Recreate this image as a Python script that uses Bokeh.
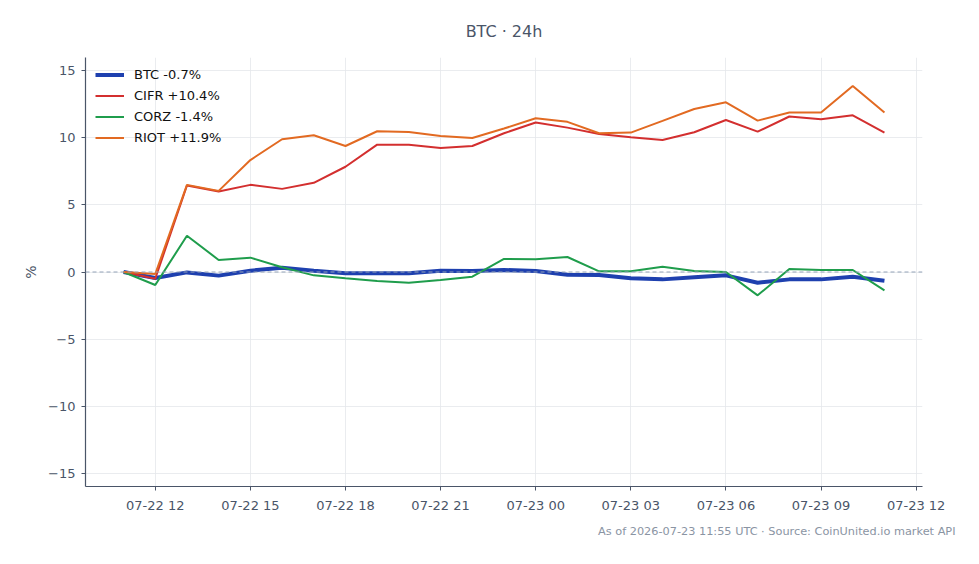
import pandas as pd
from bokeh.plotting import figure
from bokeh.models import (Range1d, FixedTicker, DatetimeTickFormatter, Span, Legend,
                          LegendItem, Title)
from bokeh.embed import file_html
from bokeh.resources import INLINE

# ---- data ----
times = pd.date_range("2026-07-22 11:00", "2026-07-23 11:00", freq="1h")
btc = [0.0, -0.45, -0.03, -0.27, 0.1, 0.32, 0.1, -0.1, -0.1, -0.1, 0.1, 0.07, 0.15,
       0.07, -0.2, -0.22, -0.47, -0.55, -0.4, -0.25, -0.8, -0.55, -0.55, -0.35, -0.65]
cifr = [0.0, -0.5, 6.45, 6.0, 6.5, 6.2, 6.65, 7.85, 9.5, 9.5, 9.25, 9.4, 10.35,
        11.15, 10.77, 10.3, 10.05, 9.85, 10.42, 11.34, 10.47, 11.6, 11.4, 11.69, 10.4]
corz = [0.0, -0.97, 2.7, 0.9, 1.07, 0.35, -0.25, -0.47, -0.67, -0.8, -0.6, -0.35, 0.97,
        0.95, 1.12, 0.05, 0.05, 0.4, 0.07, 0.0, -1.74, 0.22, 0.15, 0.15, -1.37]
riot = [0.0, -0.15, 6.5, 6.05, 8.35, 9.9, 10.2, 9.4, 10.5, 10.45, 10.15, 10.0, 10.7,
        11.47, 11.2, 10.35, 10.4, 11.27, 12.16, 12.66, 11.29, 11.9, 11.9, 13.88, 11.9]
series_names = ["BTC -0.7%", "CIFR +10.4%", "CORZ -1.4%", "RIOT +11.9%"]
series_colors = ["#1e40af", "#d32f2f", "#1f9d4c", "#e26a22"]
series_widths = [4, 2, 2, 2]
x_ticks = pd.date_range("2026-07-22 12:00", "2026-07-23 12:00", freq="3h")
y_ticks = [-15, -10, -5, 0, 5, 10, 15]
title_text = "BTC \u00b7 24h"
footer_text = "As of 2026-07-23 11:55 UTC \u00b7 Source: CoinUnited.io market API"

FONT = "DejaVu Sans"
TXT = "#4a5568"

pad = pd.Timedelta(hours=1.2)
p = figure(width=979, height=564, output_backend="svg", toolbar_location=None,
           x_axis_type="datetime",
           x_range=Range1d(times[0] - pad, times[-1] + pad),
           y_range=Range1d(-16, 16),
           min_border_left=85, min_border_right=57, min_border_top=57,
           min_border_bottom=78)
p.outline_line_color = None
p.background_fill_color = "white"
p.border_fill_color = "white"

p.add_layout(Title(text=title_text, align="center", text_font=FONT,
                   text_font_size="16px", text_font_style="normal",
                   text_color=TXT, offset=0, standoff=34), "above")
p.add_layout(Title(text=footer_text, align="right", text_font=FONT,
                   text_font_size="11.3px", text_font_style="normal",
                   text_color="#8a94a3", standoff=15, offset=-33), "below")

zero = Span(location=0, dimension="width", line_color="#94a3b8", line_width=1,
            line_dash="4 3")
p.add_layout(zero)

all_series = [btc, cifr, corz, riot]
items = []
for name, col, w, vals in zip(series_names, series_colors, series_widths, all_series):
    r = p.line(x=list(times), y=vals, line_color=col, line_width=w)
    items.append(LegendItem(label=name, renderers=[r]))

legend = Legend(items=items, location="top_left", border_line_color=None,
                background_fill_alpha=0.0, label_text_font=FONT,
                label_text_font_size="13px", label_text_color="#111111",
                glyph_width=29, glyph_height=15, spacing=6, margin=10,
                padding=0, label_standoff=10)
p.add_layout(legend)

p.xaxis.ticker = FixedTicker(ticks=[t.value // 10**6 for t in x_ticks])
p.xaxis.formatter = DatetimeTickFormatter(hours="%m-%d %H", days="%m-%d %H",
                                          hourmin="%m-%d %H", minutes="%m-%d %H")
p.yaxis.ticker = FixedTicker(ticks=y_ticks)
p.yaxis.major_label_overrides = {v: (str(v).replace("-", "\u2212")) for v in y_ticks}
p.yaxis.axis_label = "%"

for ax in (p.xaxis, p.yaxis):
    ax.axis_line_color = "#4a5568"
    ax.axis_line_width = 1.2
    ax.major_tick_line_color = "#4a5568"
    ax.major_tick_in = 0
    ax.major_tick_out = 4
    ax.minor_tick_line_color = None
    ax.major_label_text_font = FONT
    ax.major_label_text_font_size = "13px"
    ax.major_label_text_color = TXT
    ax.axis_label_text_font = FONT
    ax.axis_label_text_font_size = "14px"
    ax.axis_label_text_font_style = "normal"
    ax.axis_label_text_color = TXT
p.xaxis.major_label_standoff = 7
p.yaxis.major_label_standoff = 6
p.yaxis.axis_label_standoff = 6

p.xgrid.ticker = p.xaxis.ticker
p.ygrid.ticker = p.yaxis.ticker
p.grid.grid_line_color = "#e5e7eb"
p.grid.grid_line_width = 0.8

with open("out.html", "w") as f:
    f.write(file_html(p, INLINE))
